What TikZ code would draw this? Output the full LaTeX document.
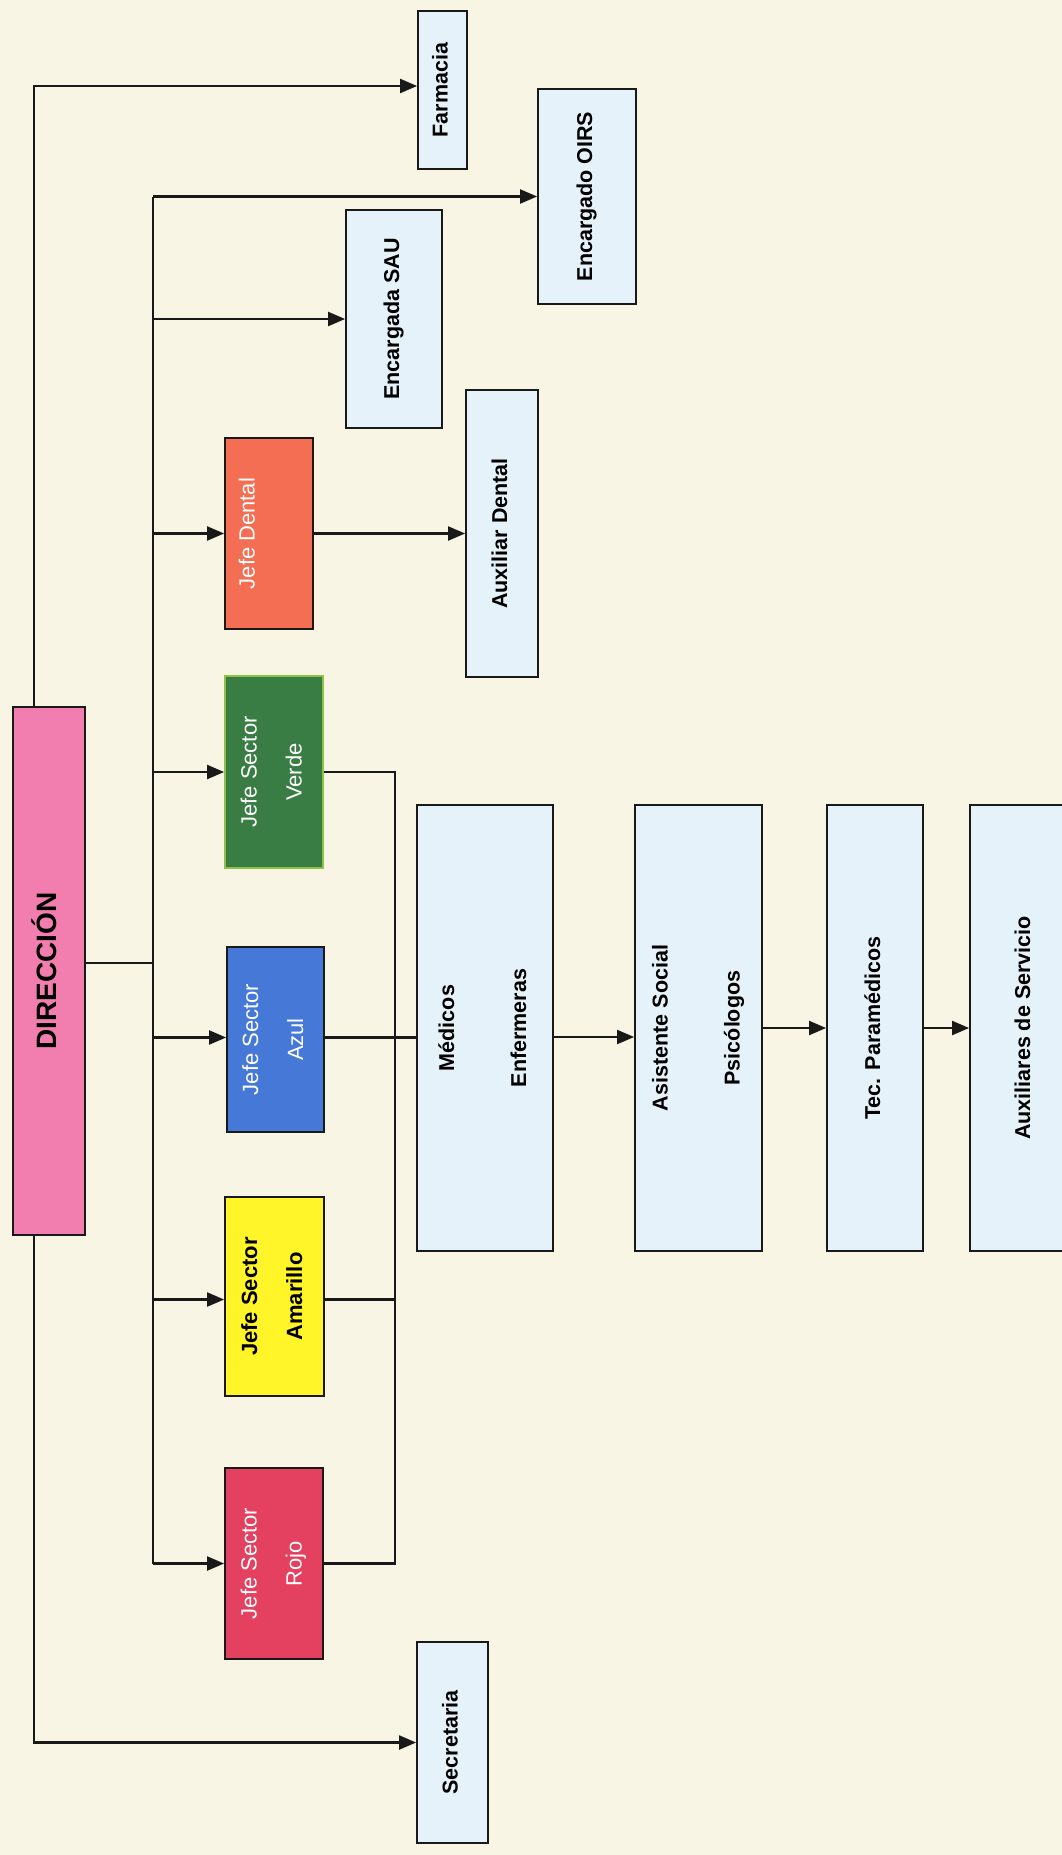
\documentclass[tikz,border=0pt]{standalone}
\usepackage{fontspec}
\setmainfont{Liberation Sans}
\usepackage{graphicx}
\usetikzlibrary{arrows.meta,calc}
\definecolor{bg}{RGB}{249,245,228}
\definecolor{lblue}{RGB}{229,242,250}
\definecolor{dirpink}{RGB}{242,125,175}
\definecolor{dentalc}{RGB}{243,110,82}
\definecolor{verdec}{RGB}{58,125,68}
\definecolor{verdeb}{RGB}{140,195,70}
\definecolor{azulc}{RGB}{70,120,215}
\definecolor{amarc}{RGB}{255,245,40}
\definecolor{rojoc}{RGB}{228,64,96}
\definecolor{edge}{RGB}{25,25,25}
\newcommand{\rt}[1]{\rotatebox{90}{\begin{tabular}{@{}c@{}}#1\end{tabular}}}
\tikzset{
  box/.style={draw=edge, line width=1.8pt, inner sep=0pt, rectangle, font=\fontsize{21.5}{25}\selectfont\bfseries},
  bluebox/.style={box, fill=lblue},
  jefebox/.style={box, text=white, font=\fontsize{22}{25}\selectfont},
  ln/.style={draw=edge, line width=2.1pt},
  arr/.style={ln, -{Triangle[length=17pt,width=14pt]}}
}
\begin{document}
\begin{tikzpicture}[x=1pt,y=-1pt]
\path[use as bounding box, fill=bg] (0,0) rectangle (1062,1855);
\clip (0,0) rectangle (1062,1855);
% nodes
\node[box, fill=dirpink, minimum width=72pt, minimum height=528pt, font=\fontsize{28}{32}\selectfont\bfseries] (dir) at (49,971) {\rt{DIRECCIÓN}};
\node[bluebox, minimum width=49pt, minimum height=158pt] (farm) at (442.5,90) {\rt{Farmacia}};
\node[bluebox, minimum width=98pt, minimum height=215pt] (oirs) at (587,196.5) {\rt{Encargado OIRS}};
\node[bluebox, minimum width=96pt, minimum height=218pt] (sau) at (394,319) {\rt{Encargada SAU}};
\node[jefebox, fill=dentalc, minimum width=88pt, minimum height=191pt] (dental) at (269,533.5) {\rt{Jefe Dental\\[14pt]~}};
\node[bluebox, minimum width=72pt, minimum height=287pt] (auxd) at (502,533.5) {\rt{Auxiliar Dental}};
\node[jefebox, fill=verdec, draw=verdeb, minimum width=98pt, minimum height=192pt] (verde) at (274,772) {\rt{Jefe Sector\\[20pt]Verde}};
\node[jefebox, fill=azulc, minimum width=97pt, minimum height=185pt] (azul) at (275.5,1039.5) {\rt{Jefe Sector\\[20pt]Azul}};
\node[box, fill=amarc, minimum width=99pt, minimum height=199pt, font=\fontsize{22}{25}\selectfont\bfseries] (amar) at (274.5,1296.5) {\rt{Jefe Sector\\[20pt]Amarillo}};
\node[jefebox, fill=rojoc, minimum width=98pt, minimum height=191pt] (rojo) at (274,1563.5) {\rt{Jefe Sector\\[20pt]Rojo}};
\node[bluebox, minimum width=71pt, minimum height=201pt] (secr) at (452.5,1742.5) {\rt{Secretaria}};
\node[bluebox, minimum width=136pt, minimum height=446pt] (med) at (485,1028) {\rt{Médicos\\[47pt]Enfermeras}};
\node[bluebox, minimum width=127pt, minimum height=446pt] (asis) at (698.5,1028) {\rt{Asistente Social\\[47pt]Psicólogos}};
\node[bluebox, minimum width=96pt, minimum height=446pt] (tec) at (875,1028) {\rt{Tec. Paramédicos}};
\node[bluebox, minimum width=110pt, minimum height=446pt] (auxs) at (1025,1028) {\rt{Auxiliares de Servicio}};
% helper coordinates
\coordinate (tl) at (34,0);
\coordinate (b) at (153,0);
\coordinate (b2) at (395,0);
% outer loop
\draw[arr] (dir.north -| tl) |- ([yshift=4pt]farm.west);
\draw[arr] (dir.south -| tl) |- (secr.west);
% main bus
\draw[ln] ([yshift=8pt]dir.east) -- ([yshift=8pt]dir.east -| b);
\draw[ln] (b |- oirs.west) -- (b |- rojo.west);
\draw[arr] (b |- oirs.west) -- (oirs.west);
\draw[arr] (b |- sau.west) -- (sau.west);
\draw[arr] (b |- dental.west) -- (dental.west);
\draw[arr] (b |- verde.west) -- (verde.west);
\draw[arr] ([yshift=2pt]b |- azul.west) -- ([yshift=2pt]azul.west);
\draw[arr] ([yshift=-3pt]b |- amar.west) -- ([yshift=-3pt]amar.west);
\draw[arr] (b |- rojo.west) -- (rojo.west);
% dental
\draw[arr] (dental.east) -- (auxd.west);
% sectors to professionals
\draw[ln] (verde.east) -| (b2 |- rojo.east) -- (rojo.east);
\draw[ln] ([yshift=-3pt]amar.east) -- ([yshift=-3pt]amar.east -| b2);
\draw[ln] ([yshift=2pt]azul.east) -- ([yshift=2pt]azul.east -| med.west);
% chain
\draw[arr] ([yshift=-9pt]med.east) -- ([yshift=-9pt]asis.west);
\draw[arr] (asis.east) -- (tec.west);
\draw[arr] (tec.east) -- (auxs.west);
\end{tikzpicture}
\end{document}
